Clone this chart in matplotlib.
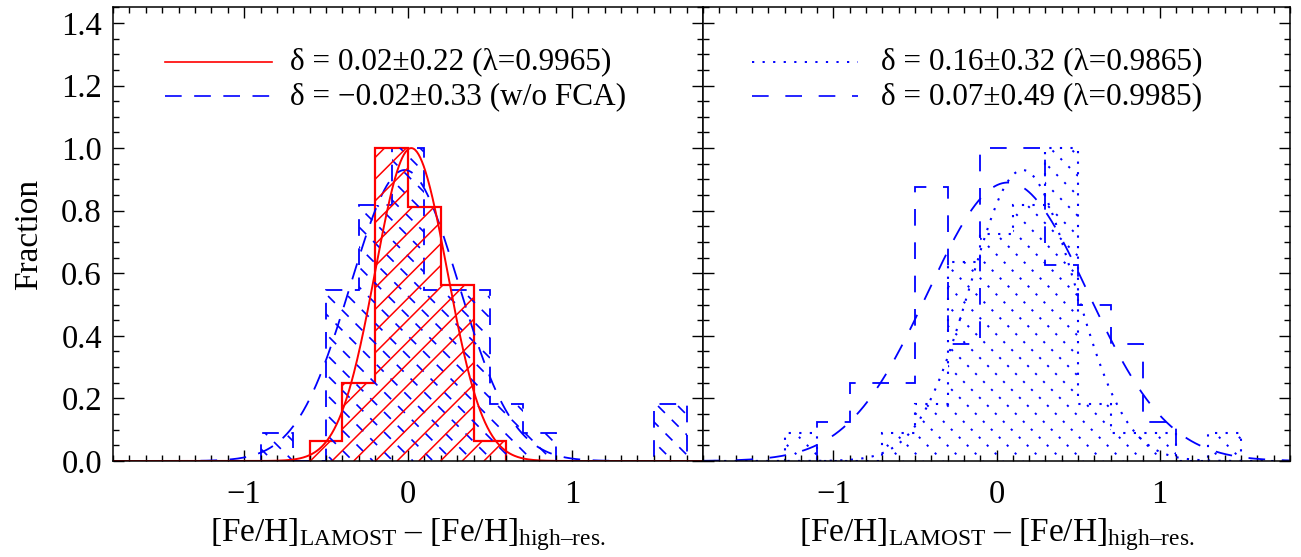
import numpy as np
import matplotlib
matplotlib.use('Agg')
import matplotlib.pyplot as plt
from matplotlib.collections import LineCollection
from matplotlib.transforms import IdentityTransform
from matplotlib.ticker import MultipleLocator, FormatStrFormatter

plt.rcParams['font.family'] = ['Liberation Serif', 'DejaVu Serif']
plt.rcParams['mathtext.fontset'] = 'custom'
plt.rcParams['mathtext.rm'] = 'Liberation Serif'
plt.rcParams['mathtext.it'] = 'Liberation Serif:italic'
plt.rcParams['lines.scale_dashes'] = False
plt.rcParams['axes.unicode_minus'] = True

# ---------------- data ----------------
# left panel: with FCA (red) and without FCA (blue dashed)
left_fca_edges = [-0.6, -0.4, -0.2, 0.0, 0.2, 0.4, 0.6]
left_fca_frac = [0.0625, 0.25, 1.0, 0.8125, 0.5625, 0.0625]

left_nofca_edges = [-0.9, -0.7, -0.5, -0.3, -0.1, 0.1, 0.3, 0.5, 0.7, 0.9, 1.1, 1.3, 1.5, 1.7]
left_nofca_frac = [0.091, 0.0, 0.545, 0.818, 1.0, 0.545, 0.545, 0.182, 0.091, 0.0, 0.0, 0.0, 0.182]

# right panel: dotted and dashed samples
right_dot_edges = [-1.3, -1.1, -0.9, -0.7, -0.5, -0.3, -0.1, 0.1, 0.3, 0.5, 0.7, 0.9, 1.1, 1.3, 1.5]
right_dot_frac = [0.091, 0.0, 0.0, 0.091, 0.182, 0.636, 0.727, 0.818, 1.0, 0.182, 0.091, 0.091, 0.0, 0.091]

right_dash_edges = [-1.1, -0.9, -0.7, -0.5, -0.3, -0.1, 0.1, 0.3, 0.5, 0.7, 0.9, 1.1]
right_dash_frac = [0.125, 0.25, 0.25, 0.875, 0.375, 1.0, 1.0, 0.625, 0.5, 0.375, 0.125]

# Gaussian fits: mean (delta), sigma, peak height
fit_names = ['left_fca', 'left_nofca', 'right_dot', 'right_dash']
fit_mean = [0.02, -0.02, 0.16, 0.07]
fit_sigma = [0.22, 0.33, 0.32, 0.49]
fit_peak = [1.0, 0.93, 0.93, 0.89]

legend_left = ['δ = 0.02±0.22 (λ=0.9965)', 'δ = −0.02±0.33 (w/o FCA)']
legend_right = ['δ = 0.16±0.32 (λ=0.9865)', 'δ = 0.07±0.49 (λ=0.9985)']

xlabel = r'[Fe/H]$_{\mathrm{LAMOST}}$ – [Fe/H]$_{\mathrm{high–res.}}$'
ylabel = 'Fraction'

# ---------------- figure ----------------
W, H, DPI = 1301, 557, 100
fig = plt.figure(figsize=(W / DPI, H / DPI), dpi=DPI)

bottom = 1 - 461 / H
top = 1 - 7.3 / H
axL = fig.add_axes([113 / W, bottom, (703 - 113) / W, top - bottom])
axR = fig.add_axes([703 / W, bottom, (1290 - 703) / W, top - bottom])

RED = (1, 0, 0)
BLUE = (0, 0, 1)
DASH = (0, (12, 9))
LONGDASH = (0, (12, 12))
DOT = (0, (1.6, 6))

xg = np.linspace(-1.8, 1.8, 721)


def gauss(i):
    return fit_peak[i] * np.exp(-0.5 * ((xg - fit_mean[i]) / fit_sigma[i]) ** 2)


def hatch(ax, clip, spacing, slope, ls, lw, color):
    bb = ax.get_window_extent()
    x0, x1, y0, y1 = bb.x0, bb.x1, bb.y0, bb.y1
    h = y1 - y0
    segs = []
    c = x0 - h - spacing
    while c < x1 + h + spacing:
        if slope > 0:
            segs.append([(c, y0), (c + h, y1)])
        else:
            segs.append([(c, y1), (c + h, y0)])
        c += spacing
    lc = LineCollection(segs, colors=[color], linewidths=lw, linestyles=[ls],
                        transform=IdentityTransform())
    lc.set_clip_path(clip)
    ax.add_collection(lc, autolim=False)


for ax in (axL, axR):
    ax.set_xlim(-1.8, 1.8)
    ax.set_ylim(0, 1.45)

# ---- left panel ----
clip_b = axL.stairs(left_nofca_frac, left_nofca_edges, fill=True,
                    facecolor='none', edgecolor='none')
hatch(axL, clip_b, 20, -1, (0, (7, 7)), 1.2, BLUE)
axL.stairs(left_nofca_frac, left_nofca_edges, fill=False, color=BLUE,
           linewidth=1.3, linestyle=DASH)
axL.plot(xg, gauss(1), color=BLUE, lw=1.3, ls=DASH)

clip_r = axL.stairs(left_fca_frac, left_fca_edges, fill=True,
                    facecolor='none', edgecolor='none')
hatch(axL, clip_r, 21.7, 1, '-', 1.1, RED)
axL.stairs(left_fca_frac, left_fca_edges, fill=False, color=RED, linewidth=1.6)
axL.plot(xg, gauss(0), color=RED, lw=1.4)

# ---- right panel ----
clip_d = axR.stairs(right_dot_frac, right_dot_edges, fill=True,
                    facecolor='none', edgecolor='none')
hatch(axR, clip_d, 20, -1, (0, (1.6, 6.5)), 1.4, BLUE)
axR.stairs(right_dot_frac, right_dot_edges, fill=False, color=BLUE,
           linewidth=1.5, linestyle=DOT)
axR.plot(xg, gauss(2), color=BLUE, lw=1.5, ls=DOT)

axR.stairs(right_dash_frac, right_dash_edges, fill=False, color=BLUE,
           linewidth=1.3, linestyle=LONGDASH)
axR.plot(xg, gauss(3), color=BLUE, lw=1.3, ls=LONGDASH)

# ---- legends (drawn manually) ----
ly = [0.879, 0.804]
axL.plot([0.088, 0.27], [ly[0]] * 2, transform=axL.transAxes, color=RED, lw=1.2)
axL.plot([0.088, 0.27], [ly[1]] * 2, transform=axL.transAxes, color=BLUE, lw=1.2, ls=DASH)
for t, y in zip(legend_left, ly):
    axL.text(0.30, y, t, transform=axL.transAxes, fontsize=22.5, va='center', ha='left')

axR.plot([0.083, 0.264], [ly[0]] * 2, transform=axR.transAxes, color=BLUE, lw=1.4, ls=DOT)
axR.plot([0.083, 0.264], [ly[1]] * 2, transform=axR.transAxes, color=BLUE, lw=1.2, ls=LONGDASH)
for t, y in zip(legend_right, ly):
    axR.text(0.303, y, t, transform=axR.transAxes, fontsize=22.5, va='center', ha='left')

# ---- axes styling ----
for ax in (axL, axR):
    ax.xaxis.set_major_locator(MultipleLocator(1))
    ax.xaxis.set_minor_locator(MultipleLocator(0.1))
    ax.yaxis.set_major_locator(MultipleLocator(0.2))
    ax.yaxis.set_minor_locator(MultipleLocator(0.05))
    ax.yaxis.set_major_formatter(FormatStrFormatter('%.1f'))
    ax.tick_params(which='both', direction='in', top=True, right=True,
                   width=1.0, colors='black', labelsize=23.5)
    ax.tick_params(which='major', length=8)
    ax.tick_params(which='minor', length=4.3)
    ax.tick_params(axis='x', pad=13)
    ax.tick_params(axis='y', pad=8)
    for s in ax.spines.values():
        s.set_linewidth(1.1)
    ax.set_xlabel(xlabel, fontsize=24, labelpad=5)

axR.tick_params(labelleft=False)
axL.set_ylabel(ylabel, fontsize=24, labelpad=12)

fig.savefig('out.png', dpi=DPI)
